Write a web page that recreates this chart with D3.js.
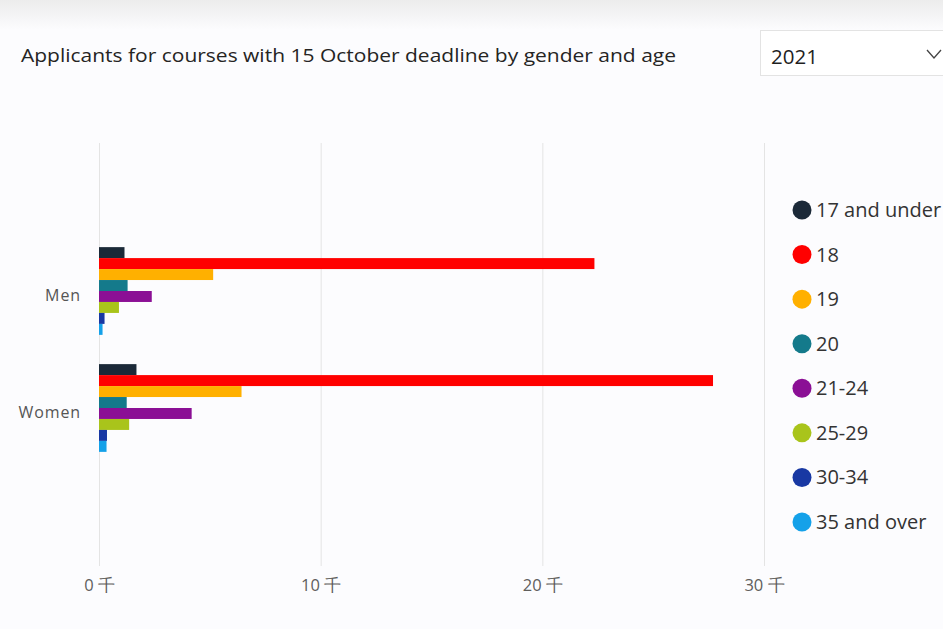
<!DOCTYPE html>
<html>
<head>
<meta charset="utf-8">
<script src="https://cdn.jsdelivr.net/npm/d3@7"></script>
<style>
  html, body { margin: 0; padding: 0; background: #fcfcfe; }
  svg { display: block; }
</style>
</head>
<body>
<svg id="chart" width="943" height="629"></svg>
<script>
const categories = ["Men", "Women"];
const ageGroups = ["17 and under", "18", "19", "20", "21-24", "25-29", "30-34", "35 and over"];
const colors = ["#1b2938", "#ff0000", "#ffb000", "#147a8b", "#8b0f95", "#a9c41b", "#1838a3", "#14a1e9"];
const menValues = [1.15, 22.35, 5.15, 1.29, 2.38, 0.9, 0.25, 0.16];      // thousands
const womenValues = [1.69, 27.7, 6.43, 1.25, 4.18, 1.36, 0.36, 0.34];    // thousands
const tickValues = [0, 10, 20, 30];
const tickLabels = ["0 千", "10 千", "20 千", "30 千"];
const titleText = "Applicants for courses with 15 October deadline by gender and age";
const yearText = "2021";

const seriesByCategory = { Men: menValues, Women: womenValues };
const svg = d3.select("#chart");
const font = "'Open Sans', 'Noto Sans', sans-serif";

// background with top gradient
const defs = svg.append("defs");
const grad = defs.append("linearGradient").attr("id", "topg").attr("x1", 0).attr("x2", 0).attr("y1", 0).attr("y2", 1);
grad.append("stop").attr("offset", "0%").attr("stop-color", "#ececec");
grad.append("stop").attr("offset", "100%").attr("stop-color", "#fcfcfe");
svg.append("rect").attr("width", 943).attr("height", 629).attr("fill", "#fcfcfe");
svg.append("rect").attr("width", 943).attr("height", 30).attr("fill", "url(#topg)");

// title
svg.append("text").attr("x", 21).attr("y", 62)
  .attr("font-family", font).attr("font-size", 18.5).attr("fill", "#252423")
  .attr("textLength", 655).attr("lengthAdjust", "spacingAndGlyphs")
  .text(titleText);

// dropdown
svg.append("rect").attr("x", 760.5).attr("y", 30.5).attr("width", 200).attr("height", 45)
  .attr("fill", "#ffffff").attr("stroke", "#e3e3e3");
svg.append("text").attr("x", 771).attr("y", 64)
  .attr("font-family", font).attr("font-size", 20.5).attr("fill", "#1f1f1f").text(yearText);
svg.append("path").attr("d", "M927,50 L934,58 L941,50").attr("fill", "none")
  .attr("stroke", "#444").attr("stroke-width", 1.3);

// scales
const x = d3.scaleLinear().domain([0, 30]).range([99, 764]);
const y = d3.scaleBand().domain(categories).range([232.5, 466.5]).paddingInner(0.25).paddingOuter(0.125);
const y1 = d3.scaleBand().domain(ageGroups).range([0, y.bandwidth()]);

// gridlines
svg.append("g").selectAll("line").data(tickValues).join("line")
  .attr("x1", d => x(d) + 0.5).attr("x2", d => x(d) + 0.5)
  .attr("y1", 143).attr("y2", 566)
  .attr("stroke", "#e4e4e4").attr("stroke-width", 1);

// x axis labels
const xAxis = d3.axisBottom(x).tickValues(tickValues).tickFormat((d, i) => tickLabels[i]).tickSize(0).tickPadding(0);
const gx = svg.append("g").attr("transform", "translate(0,579)").call(xAxis);
gx.select(".domain").remove();
gx.selectAll("text").attr("font-family", font).attr("font-size", 16.5).attr("fill", "#605e5c");

// y axis labels
const yAxis = d3.axisLeft(y).tickSize(0).tickPadding(0);
const gy = svg.append("g").attr("transform", "translate(81,0)").call(yAxis);
gy.select(".domain").remove();
gy.selectAll("text").attr("font-family", font).attr("font-size", 16).attr("fill", "#555")
  .attr("letter-spacing", "0.9").attr("dy", "0.6em");

// bars
const groups = svg.append("g").selectAll("g").data(categories).join("g")
  .attr("transform", d => `translate(0,${y(d)})`);
groups.selectAll("rect").data(c => ageGroups.map((a, i) => ({ a, i, v: seriesByCategory[c][i] }))).join("rect")
  .attr("x", x(0))
  .attr("y", d => y1(d.a))
  .attr("width", d => x(d.v) - x(0))
  .attr("height", y1.bandwidth())
  .attr("fill", d => colors[d.i]);

// legend
const legendY = d3.scalePoint().domain(ageGroups).range([210, 522]);
const lg = svg.append("g").selectAll("g").data(ageGroups).join("g")
  .attr("transform", d => `translate(0,${legendY(d)})`);
lg.append("circle").attr("cx", 802).attr("cy", 0).attr("r", 9.5).attr("fill", (d, i) => colors[i]);
lg.append("text").attr("x", 816).attr("y", 0).attr("dy", "0.35em")
  .attr("font-family", font).attr("font-size", 20).attr("fill", "#333")
  .text(d => d);
</script>
</body>
</html>
